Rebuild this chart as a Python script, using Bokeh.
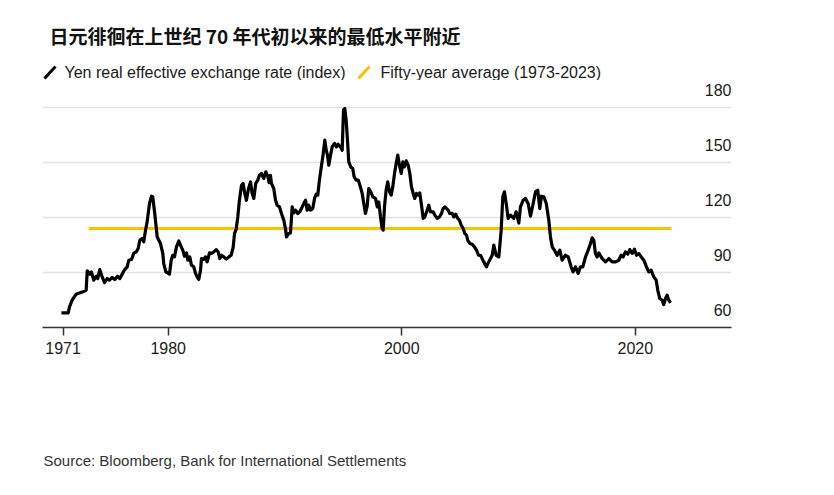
from bokeh.plotting import figure
from bokeh.layouts import column
from bokeh.models import Range1d, FixedTicker, Label, Arrow
from bokeh.embed import file_html
from bokeh.resources import INLINE

# ---------------- data ----------------
years = [
    1970.86, 1971.44, 1971.55, 1971.78, 1972.12, 1972.64, 1972.98, 1973.07, 1973.29, 1973.43,
    1973.63, 1973.84, 1973.97, 1974.14, 1974.35, 1974.55, 1974.78, 1974.97, 1975.21, 1975.43,
    1975.66, 1975.86, 1976.06, 1976.28, 1976.49, 1976.63, 1976.86, 1977.05, 1977.26, 1977.43,
    1977.57, 1977.77, 1977.91, 1978.06, 1978.20, 1978.40, 1978.57, 1978.68, 1978.85, 1979.06,
    1979.34, 1979.54, 1979.62, 1979.80, 1979.97, 1980.11, 1980.26, 1980.39, 1980.54, 1980.71,
    1980.91, 1981.05, 1981.25, 1981.40, 1981.57, 1981.68, 1981.85, 1981.99, 1982.19, 1982.34,
    1982.48, 1982.62, 1982.77, 1982.85, 1983.05, 1983.19, 1983.34, 1983.54, 1983.71, 1983.90,
    1984.11, 1984.28, 1984.42, 1984.56, 1984.76, 1984.97, 1985.19, 1985.39, 1985.57, 1985.68,
    1985.82, 1985.96, 1986.10, 1986.28, 1986.42, 1986.56, 1986.70, 1986.88, 1987.05, 1987.19,
    1987.33, 1987.50, 1987.67, 1987.82, 1987.99, 1988.18, 1988.36, 1988.53, 1988.64, 1988.76,
    1988.84, 1989.04, 1989.19, 1989.33, 1989.53, 1989.70, 1989.90, 1990.04, 1990.13, 1990.33,
    1990.47, 1990.62, 1990.75, 1990.90, 1991.10, 1991.27, 1991.41, 1991.61, 1991.76, 1991.90,
    1992.04, 1992.18, 1992.38, 1992.53, 1992.67, 1992.81, 1992.95, 1993.13, 1993.24, 1993.41,
    1993.53, 1993.64, 1993.75, 1993.90, 1994.04, 1994.24, 1994.41, 1994.55, 1994.75, 1994.90,
    1995.01, 1995.12, 1995.24, 1995.35, 1995.46, 1995.63, 1995.80, 1995.92, 1996.10, 1996.27,
    1996.44, 1996.61, 1996.75, 1996.89, 1997.04, 1997.17, 1997.35, 1997.52, 1997.75, 1997.90,
    1998.03, 1998.18, 1998.32, 1998.41, 1998.52, 1998.66, 1998.80, 1998.95, 1999.09, 1999.23,
    1999.38, 1999.52, 1999.66, 1999.80, 1999.95, 2000.09, 2000.23, 2000.38, 2000.55, 2000.69,
    2000.83, 2000.98, 2001.11, 2001.26, 2001.40, 2001.54, 2001.69, 2001.83, 2001.97, 2002.17,
    2002.31, 2002.46, 2002.69, 2002.83, 2003.03, 2003.23, 2003.40, 2003.54, 2003.68, 2003.83,
    2003.97, 2004.11, 2004.32, 2004.45, 2004.62, 2004.79, 2004.94, 2005.09, 2005.26, 2005.39,
    2005.54, 2005.65, 2005.82, 2006.03, 2006.22, 2006.40, 2006.57, 2006.74, 2007.02, 2007.25,
    2007.45, 2007.74, 2007.88, 2008.08, 2008.31, 2008.51, 2008.65, 2008.79, 2008.96, 2009.11,
    2009.31, 2009.59, 2009.79, 2010.02, 2010.16, 2010.39, 2010.59, 2010.82, 2011.02, 2011.22,
    2011.45, 2011.64, 2011.82, 2011.96, 2012.16, 2012.37, 2012.59, 2012.73, 2012.88, 2013.07,
    2013.30, 2013.53, 2013.73, 2014.02, 2014.25, 2014.50, 2014.67, 2014.87, 2015.10, 2015.30,
    2015.50, 2015.73, 2015.96, 2016.16, 2016.30, 2016.44, 2016.58, 2016.73, 2016.87, 2017.16,
    2017.44, 2017.73, 2018.01, 2018.30, 2018.58, 2018.78, 2018.95, 2019.15, 2019.35, 2019.52,
    2019.73, 2019.92, 2020.10, 2020.29, 2020.50, 2020.72, 2020.95, 2021.15, 2021.35, 2021.58,
    2021.78, 2021.92, 2022.09, 2022.29, 2022.43, 2022.58, 2022.72, 2022.86, 2023.01,
]
reer = [
    68.0, 68.0, 71.2, 74.9, 78.2, 79.4, 80.3, 90.9, 89.1, 90.3,
    85.8, 88.0, 86.7, 91.6, 87.6, 84.5, 86.7, 85.8, 87.3, 86.2,
    88.0, 86.7, 89.1, 91.6, 93.1, 96.7, 97.1, 100.4, 101.2, 103.1,
    107.6, 108.6, 106.7, 113.1, 117.6, 127.6, 131.6, 131.2, 122.2, 109.4,
    105.8, 100.4, 94.9, 90.3, 89.8, 89.1, 96.7, 99.4, 98.5, 104.0,
    107.2, 104.9, 102.2, 98.9, 100.7, 96.7, 98.5, 94.0, 93.1, 89.5,
    87.6, 86.2, 91.3, 97.6, 97.1, 98.5, 95.8, 100.7, 100.4, 101.2,
    102.5, 101.2, 97.6, 99.4, 98.5, 97.3, 98.5, 99.4, 104.0, 111.3,
    113.5, 120.3, 129.4, 137.6, 138.6, 133.1, 129.4, 135.8, 139.4, 133.1,
    130.4, 138.6, 140.4, 143.1, 144.0, 141.3, 144.9, 142.5, 139.0, 143.0,
    138.6, 135.8, 129.4, 126.7, 125.8, 122.2, 118.5, 114.0, 109.4, 111.3,
    111.6, 125.8, 122.5, 124.0, 122.2, 123.1, 124.9, 127.6, 129.4, 124.0,
    126.7, 124.0, 124.9, 130.4, 132.7, 132.2, 140.4, 148.5, 153.1, 162.2,
    156.7, 154.0, 148.5, 154.0, 158.5, 160.4, 158.5, 160.0, 158.5, 156.7,
    178.6, 179.5, 173.1, 162.2, 150.3, 147.6, 146.7, 142.2, 140.4, 140.4,
    137.1, 133.1, 127.6, 122.2, 126.2, 135.8, 134.0, 131.3, 130.4, 125.8,
    128.5, 120.3, 114.0, 113.1, 125.8, 134.9, 139.4, 134.0, 132.2, 136.7,
    144.0, 149.5, 154.0, 148.5, 144.0, 150.3, 147.6, 150.9, 148.5, 144.0,
    136.7, 133.1, 130.4, 133.1, 132.2, 133.4, 126.7, 119.5, 120.3, 124.0,
    126.7, 123.1, 123.1, 121.3, 119.5, 120.3, 122.2, 124.9, 125.8, 124.9,
    124.0, 122.2, 122.2, 120.3, 121.8, 119.5, 118.5, 115.8, 114.0, 111.3,
    110.4, 107.6, 105.8, 105.4, 104.0, 102.2, 99.4, 99.4, 95.8, 93.1,
    95.8, 99.4, 104.9, 99.4, 98.5, 113.1, 131.3, 134.0, 126.7, 119.5,
    121.3, 119.5, 123.1, 117.0, 125.8, 129.4, 130.4, 127.6, 120.7, 126.7,
    134.0, 134.9, 124.9, 131.6, 131.3, 127.6, 118.5, 109.4, 104.0, 102.2,
    99.4, 102.2, 96.7, 99.4, 98.5, 93.1, 90.3, 93.1, 89.5, 93.1,
    93.1, 98.5, 102.2, 105.8, 108.9, 107.6, 100.4, 98.5, 100.7, 97.6,
    95.8, 97.6, 95.8, 95.8, 96.7, 99.4, 98.5, 101.2, 100.0, 102.5,
    100.4, 102.7, 99.4, 100.4, 98.5, 96.7, 93.1, 90.3, 91.3, 87.6,
    85.8, 80.3, 75.8, 74.9, 72.5, 75.8, 77.6, 74.9, 73.4,
]
avg_years = [1973.2, 2023.1]
avg_values = [114.0, 114.0]

x_ticks = [1971, 1980, 2000, 2020]
y_ticks = [60, 90, 120, 150, 180]

title_text = "日元徘徊在上世纪 70 年代初以来的最低水平附近"
legend_labels = ["Yen real effective exchange rate (index)", "Fifty-year average (1973-2023)"]
source_text = "Source: Bloomberg, Bank for International Settlements"

# ---------------- layout ----------------
W = 834
HEAD_H, MAIN_H, FOOT_H = 80, 320, 95
FRAME_L, FRAME_R = 42, 731
AXIS_PANEL = 73          # space under the plotting frame for the x axis
FONT = "Liberation Sans"
BLACK = "#000000"
YELLOW = "#F8C200"
TXT = "#1a1a1a"


def blank_fig(h):
    # frame aligned with the main chart; the data units equal page pixels
    f = figure(width=W, height=h, output_backend="svg", toolbar_location=None,
               title=None, x_range=Range1d(FRAME_L, FRAME_R), y_range=Range1d(h, 0),
               x_axis_location=None, y_axis_location=None,
               min_border_left=FRAME_L, min_border_right=W - FRAME_R,
               min_border_top=0, min_border_bottom=0)
    f.xgrid.visible = False
    f.ygrid.visible = False
    f.outline_line_color = None
    f.background_fill_color = "white"
    f.border_fill_color = "white"
    return f


# ---- header: title + legend ----
head = blank_fig(HEAD_H)
head.add_layout(Label(x=49, y=35, text=title_text, text_baseline="middle", text_align="left",
                      text_font="Noto Sans CJK SC", text_font_style="bold",
                      text_font_size="19px", text_color="#111111"))
for x0, color, lab, tx in [(44, BLACK, legend_labels[0], 64), (358, YELLOW, legend_labels[1], 380)]:
    head.add_layout(Arrow(start=None, end=None, x_start=x0, y_start=78, x_end=x0 + 11, y_end=66,
                          line_color=color, line_width=3))
    head.add_layout(Label(x=tx, y=72, text=lab, text_baseline="middle", text_align="left",
                          text_font=FONT, text_font_size="16px", text_color=TXT))

# ---- main chart ----
frame_h = MAIN_H - AXIS_PANEL
y_top = 60 + frame_h * 120 / 220.0      # 220 px per 120 index points
p = figure(width=W, height=MAIN_H, output_backend="svg", toolbar_location=None, title=None,
           x_range=Range1d(1969.24, 2028.23), y_range=Range1d(60, y_top),
           y_axis_location=None,
           min_border_left=FRAME_L, min_border_right=W - FRAME_R,
           min_border_top=0, min_border_bottom=AXIS_PANEL)
p.outline_line_color = None
p.background_fill_color = "white"
p.border_fill_color = "white"

p.xgrid.visible = False
p.ygrid.ticker = FixedTicker(ticks=y_ticks)
p.ygrid.grid_line_color = "#e2e2e2"
p.ygrid.grid_line_width = 1.5

p.xaxis.ticker = FixedTicker(ticks=x_ticks)
p.xaxis.axis_line_color = "#333333"
p.xaxis.axis_line_width = 1.5
p.xaxis.major_tick_line_color = "#333333"
p.xaxis.major_tick_line_width = 1.5
p.xaxis.major_tick_in = 0
p.xaxis.major_tick_out = 8
p.xaxis.minor_tick_line_color = None
p.xaxis.major_label_text_font = FONT
p.xaxis.major_label_text_font_size = "16px"
p.xaxis.major_label_text_color = TXT
p.xaxis.major_label_standoff = 6

p.line(avg_years, avg_values, line_color=YELLOW, line_width=3)
p.line(years, reer, line_color=BLACK, line_width=3.2, line_join="round")

for v in y_ticks:
    p.add_layout(Label(x=p.x_range.end, y=v, y_offset=18,
                       text=str(v), text_align="right", text_baseline="alphabetic",
                       text_font=FONT, text_font_size="16px", text_color=TXT))

# ---- footer: source ----
foot = blank_fig(FOOT_H)
foot.add_layout(Label(x=43, y=60, text=source_text, text_baseline="middle", text_align="left",
                      text_font=FONT, text_font_size="15px", text_color="#333333"))

layout = column(head, p, foot, spacing=0)
open("out.html", "w").write(file_html(layout, INLINE))
